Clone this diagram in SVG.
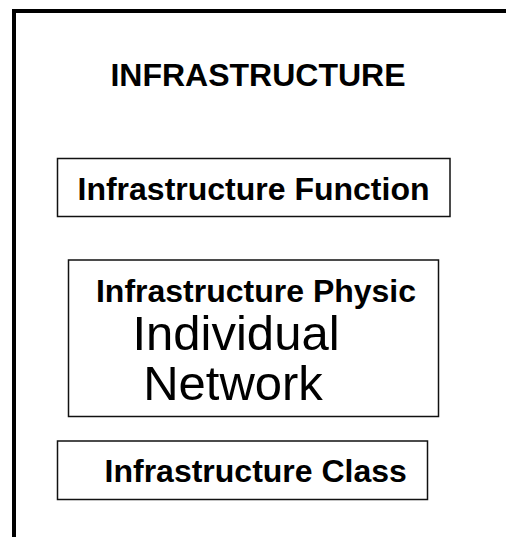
<svg xmlns="http://www.w3.org/2000/svg" width="506" height="537" viewBox="0 0 506 537">
<style>
.frame{fill:none;stroke:#000;stroke-width:4}
.box{fill:#fff;stroke:#111;stroke-width:1.5}
.b{font-family:"Liberation Sans",Arial,sans-serif;font-weight:bold;font-size:32px;fill:#000}
.r{font-family:"Liberation Sans",Arial,sans-serif;font-size:49px;fill:#000}
</style>
<rect width="506" height="537" fill="#fff"/>
<g id="frame">
<path class="frame" d="M14,537 V11 H506"/>
<text class="b" x="258" y="86" text-anchor="middle">INFRASTRUCTURE</text>
</g>
<g id="connectors"></g>
<g id="function">
<rect class="box" x="57.5" y="158.5" width="392.5" height="58"/>
<text class="b" x="253.5" y="200" text-anchor="middle">Infrastructure Function</text>
</g>
<g id="physic">
<rect class="box" x="68.5" y="260" width="370" height="156.5"/>
<text class="b" x="256" y="302" text-anchor="middle">Infrastructure Physic</text>
<text class="r" x="236" y="350" text-anchor="middle">Individual</text>
<text class="r" x="233" y="400" text-anchor="middle">Network</text>
</g>
<g id="class">
<rect class="box" x="57.5" y="441" width="370" height="58.5"/>
<text class="b" x="255.7" y="482" text-anchor="middle">Infrastructure Class</text>
</g>
</svg>
